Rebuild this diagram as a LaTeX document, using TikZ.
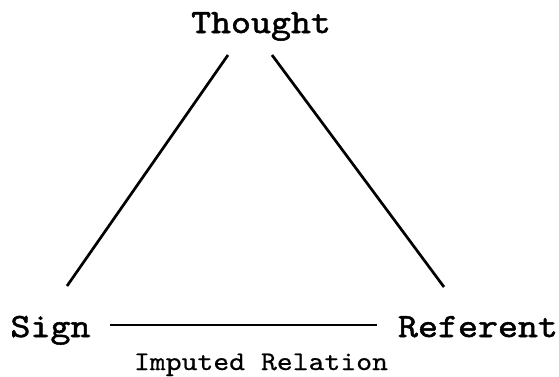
\documentclass[tikz,border=0pt]{standalone}
\usepackage{fontspec}
\newfontfamily\cornerfont[FakeStretch=1.12,FakeBold=1.5]{lmmono10-regular.otf}
\newfontfamily\relfont[FakeStretch=1.12,FakeBold=0.5]{lmmono10-regular.otf}
\usetikzlibrary{calc}

\tikzset{
  corner/.style={font=\cornerfont\fontsize{34}{34}\selectfont,inner sep=0pt,anchor=base},
  relabel/.style={font=\relfont\fontsize{27}{27}\selectfont,inner sep=0pt,anchor=base},
  edge/.style={line width=2.7pt}
}

\begin{document}
\begin{tikzpicture}[x=1pt,y=-1pt]
\useasboundingbox (0,0) rectangle (559,376);

\node[corner] (thought) at (261,33) {Thought};
\node[corner] (sign) at (50.5,337) {Sign};
\node[corner] (referent) at (478,337) {Referent};
\node[relabel] (imputed) at (261,370) {Imputed Relation};

\draw[edge] ($(thought.base)+(-33,22)$) -- ($(sign.base)+(16.5,-51)$);
\draw[edge] ($(thought.base)+(11,22)$) -- ($(referent.base)+(-34,-50)$);
\draw[edge] ($(sign.base)+(59.5,-12)$) -- ($(referent.base)+(-101,-12)$);
\end{tikzpicture}
\end{document}
